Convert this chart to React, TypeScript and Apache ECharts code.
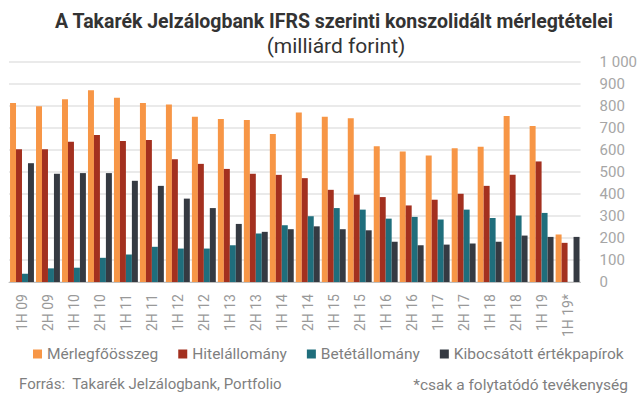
import React, { useEffect, useRef } from "react";
import * as echarts from "echarts";

const categories = ["1H 09","2H 09","1H 10","2H 10","1H 11","2H 11","1H 12","2H 12","1H 13","2H 13","1H 14","2H 14","1H 15","2H 15","1H 16","2H 16","1H 17","2H 17","1H 18","2H 18","1H 19","1H 19*"];
const merlegfoosszeg = [814,799,831,872,837,814,807,751,741,736,673,771,751,744,617,593,575,608,615,754,709,216];
const hitelallomany = [603,603,638,668,641,645,558,537,514,492,487,472,419,397,386,348,374,401,437,487,548,178];
const betetallomany = [38,62,65,110,125,160,152,152,167,220,258,299,336,329,288,296,284,329,291,302,314,null];
const ertekpapirok = [540,492,495,495,460,437,379,336,264,228,240,253,240,235,183,167,170,175,183,211,205,205];
const seriesNames = ["Mérlegfőösszeg","Hitelállomány","Betétállomány","Kibocsátott értékpapírok"];
const colors = ["#F79646","#A3301F","#1F6E7C","#353A42"];

export default function App() {
  const ref = useRef<HTMLDivElement>(null);
  useEffect(() => {
    const chart = echarts.init(ref.current!, null, { renderer: "svg" });
    const font = "Roboto";
    const data = [merlegfoosszeg, hitelallomany, betetallomany, ertekpapirok];
    chart.setOption({
      animation: false,
      color: colors,
      textStyle: { fontFamily: font },
      grid: { left: 9, width: 572, top: 62, height: 220, containLabel: false },
      legend: {
        left: 33, top: 346, width: 630, padding: 0, itemWidth: 9, itemHeight: 9, itemGap: 20,
        icon: "rect",
        textStyle: { fontSize: 15.5, color: "#7f7f7f", fontFamily: font },
        data: seriesNames,
      },
      xAxis: {
        type: "category", data: categories,
        axisLine: { show: true, lineStyle: { color: "#bfbfbf", width: 1 } },
        axisTick: { show: false },
        axisLabel: { rotate: 90, fontSize: 14, color: "#999999", margin: 12, interval: 0, fontFamily: font },
      },
      yAxis: {
        type: "value", position: "right", min: 0, max: 1000, interval: 100,
        axisLine: { show: false }, axisTick: { show: false },
        splitLine: { lineStyle: { color: "#e3e3e3", width: 1.5 } },
        axisLabel: {
          margin: 19, fontSize: 15, color: "#a6a6a6", fontFamily: font,
          formatter: (v: number) => (v >= 1000 ? "1 000" : String(v)),
        },
      },
      series: seriesNames.map((name, i) => ({
        name, type: "bar", data: data[i], barGap: "0%", barCategoryGap: "8%",
      })),
      graphic: [
        { type: "text", x: 334, y: 21, style: { text: "A Takarék Jelzálogbank IFRS szerinti konszolidált mérlegtételei", font: `bold 19.5px ${font}`, fill: "#333333", textAlign: "center", textVerticalAlign: "middle" } },
        { type: "text", x: 336, y: 46, style: { text: "(milliárd forint)", font: `21px ${font}`, fill: "#333333", textAlign: "center", textVerticalAlign: "middle" } },
        { type: "text", x: 19, y: 384, style: { text: "Forrás:  Takarék Jelzálogbank, Portfolio", font: `15px ${font}`, fill: "#7f7f7f", textAlign: "left", textVerticalAlign: "middle" } },
        { type: "text", x: 628, y: 385, style: { text: "*csak a folytatódó tevékenység", font: `15.5px ${font}`, fill: "#7f7f7f", textAlign: "right", textVerticalAlign: "middle" } },
      ],
    });
    return () => chart.dispose();
  }, []);
  return <div ref={ref} style={{ width: 640, height: 399, position: "absolute", left: 0, top: 0 }} />;
}
